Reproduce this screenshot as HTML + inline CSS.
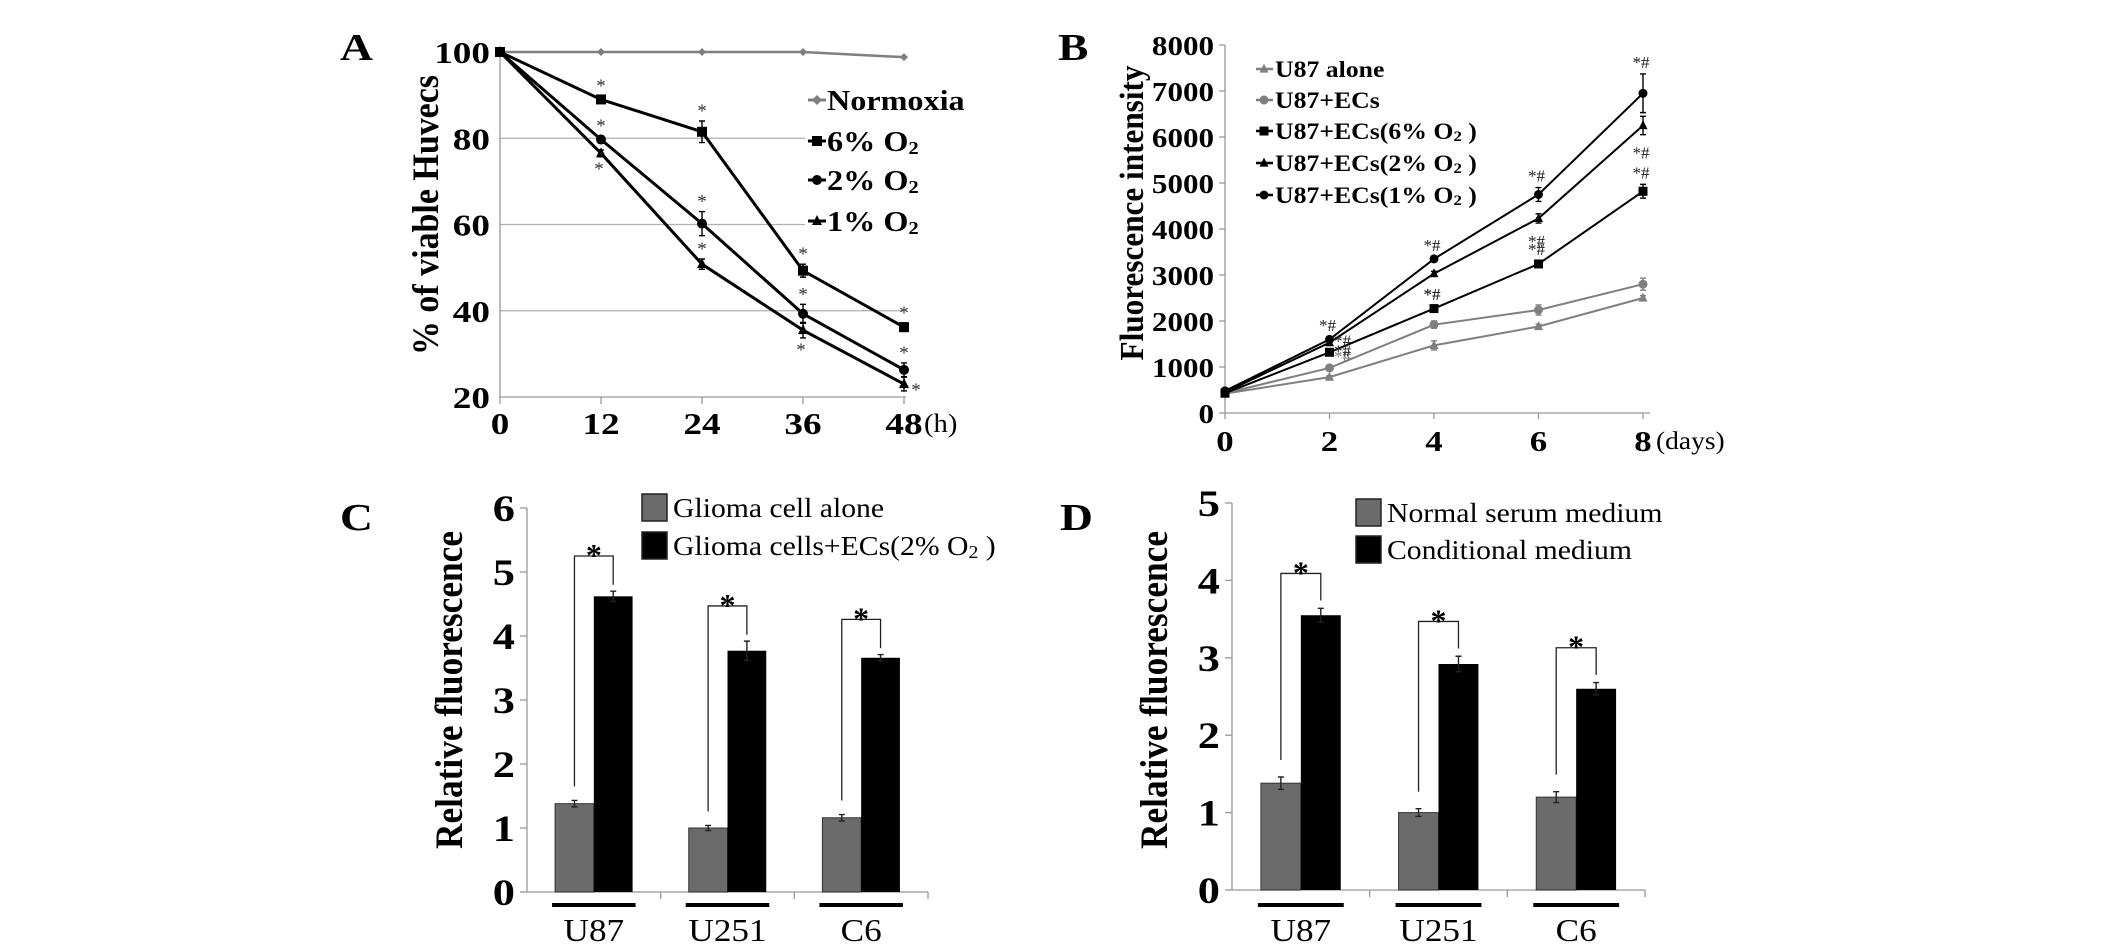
<!DOCTYPE html>
<html><head><meta charset="utf-8"><style>
html,body{margin:0;padding:0;background:#fff;overflow:hidden;}
svg{display:block;}
svg text{font-family:"Liberation Serif","Times New Roman",serif;}
</style></head><body>
<svg id="fig" width="2126" height="944" viewBox="0 0 2126 944">
<g id="pA"></g>
<g id="pB"></g>
<g id="pC"></g>
<g id="pD"></g>
</svg>
<script>
// ---- Panel A data ----
const aHours = [0, 12, 24, 36, 48];
const aYTicks = [20, 40, 60, 80, 100];
const aNormoxia = [100, 100, 100, 100, 98.8];
const a6 = [100, 89, 81.5, 49.3, 36.2];
const a2 = [100, 79.7, 60.2, 39.3, 26.3];
const a1 = [100, 76.5, 50.8, 35.5, 23];
const a6Err = [0, 0.8, 2.5, 1.5, 1];
const a2Err = [0, 0.8, 2.8, 2.2, 1.6];
const a1Err = [0, 0.8, 1.2, 1.8, 1.6];
// ---- Panel B data ----
const bDays = [0, 2, 4, 6, 8];
const bYTicks = [0, 1000, 2000, 3000, 4000, 5000, 6000, 7000, 8000];
const bAlone = [420, 780, 1470, 1880, 2500];
const bECs = [430, 980, 1920, 2240, 2800];
const b6 = [430, 1320, 2270, 3240, 4820];
const b2 = [450, 1530, 3030, 4230, 6250];
const b1 = [480, 1600, 3350, 4750, 6950];
const bAloneErr = [0, 30, 100, 50, 50];
const bECsErr = [0, 50, 80, 110, 130];
const b6Err = [0, 40, 60, 60, 150];
const b2Err = [0, 50, 50, 100, 200];
const b1Err = [40, 50, 40, 150, 420];
// ---- Panel C data ----
const cCats = ["U87", "U251", "C6"];
const cYTicks = [0, 1, 2, 3, 4, 5, 6];
const cGray = [1.38, 1.0, 1.16];
const cBlack = [4.62, 3.77, 3.66];
const cGrayErr = [0.05, 0.04, 0.05];
const cBlackErr = [0.08, 0.15, 0.05];
// ---- Panel D data ----
const dCats = ["U87", "U251", "C6"];
const dYTicks = [0, 1, 2, 3, 4, 5];
const dGray = [1.38, 1.0, 1.2];
const dBlack = [3.55, 2.92, 2.6];
const dGrayErr = [0.08, 0.05, 0.07];
const dBlackErr = [0.09, 0.1, 0.08];

const NS = "http://www.w3.org/2000/svg";
function mk(parent, tag, attrs, text) {
  const e = document.createElementNS(NS, tag);
  for (const k in attrs) e.setAttribute(k, attrs[k]);
  if (text !== undefined) e.textContent = text;
  parent.appendChild(e);
  return e;
}
function txt(parent, x, y, str, size, anchor, weight, sx) {
  return mk(parent, "text", {x: 0, y: 0, transform: `translate(${x} ${y}) scale(${sx || 1.15} 1)`, "font-size": size, "font-weight": weight || "normal", "text-anchor": anchor || "start"}, str);
}
function marker(g, type, x, y, r, color) {
  if (type === "square") return mk(g, "rect", {x: x - r, y: y - r, width: 2 * r, height: 2 * r, fill: color});
  if (type === "circle") return mk(g, "circle", {cx: x, cy: y, r: r, fill: color});
  if (type === "triangle") return mk(g, "polygon", {points: `${x},${y - r * 1.2} ${x - r},${y + r * 0.8} ${x + r},${y + r * 0.8}`, fill: color});
  return mk(g, "polygon", {points: `${x},${y - r} ${x + r},${y} ${x},${y + r} ${x - r},${y}`, fill: color});
}
function errBar(g, x, yHi, yLo, color) {
  mk(g, "path", {d: `M${x} ${yHi} V${yLo} M${x - 3} ${yHi} H${x + 3} M${x - 3} ${yLo} H${x + 3}`, stroke: color, "stroke-width": 1.4, fill: "none"});
}

// ================= Panel A =================
(function () {
  const g = document.getElementById("pA");
  const X = h => 500 + h * (904 - 500) / 48;
  const Y = v => 397 - (v - 20) * (397 - 52) / 80;
  let t = txt(g, 340, 60, "A", 38, "start", "bold", 1.2);
   
  aYTicks.forEach(v => {
    if (v > 20 && v < 100) {
      const l = mk(g, "line", {x1: 500, x2: 904, y1: Y(v), y2: Y(v), stroke: "#b0b0b0", "stroke-width": 1.3});
       
    }
    const tt = txt(g, 490, Y(v) + 11, String(v), 31, "end", "bold", 1.2);
     
  });
  const ax = mk(g, "path", {d: `M500 ${Y(100)} V397 H906`, stroke: "#999", "stroke-width": 1.3, fill: "none"});
   
  aHours.forEach(h => {
    mk(g, "line", {x1: X(h), x2: X(h), y1: 397, y2: 404, stroke: "#999", "stroke-width": 1.3});
    const tt = txt(g, X(h), 434, String(h), 31, "middle", "bold", 1.2);
     
  });
  t = txt(g, 924, 432, "(h)", 26, "start", "normal", 1.1);
   
  t = mk(g, "text", {x: 0, y: 0, "font-size": 37, "font-weight": "bold", "text-anchor": "middle", transform: "translate(438 215) rotate(-90)", textLength: 280, lengthAdjust: "spacingAndGlyphs"}, "% of viable Huvecs");
   

  const series = [
    {vals: aNormoxia, err: null, type: "diamond", color: "#7f7f7f", w: 2.5, name: "Normoxia"},
    {vals: a6, err: a6Err, type: "square", color: "#000", w: 3, name: "6% O"},
    {vals: a2, err: a2Err, type: "circle", color: "#000", w: 3, name: "2% O"},
    {vals: a1, err: a1Err, type: "triangle", color: "#000", w: 3, name: "1% O"}
  ];
  const legY = [100, 141, 180, 221];
  const bgRect = mk(g, "rect", {x: 805, y: 78, width: 120, height: 165, fill: "#fff"});
   
  series.forEach((s, si) => {
    const sg = mk(g, "g", {});
    
    
    mk(sg, "polyline", {points: s.vals.map((v, i) => X(aHours[i]) + "," + Y(v)).join(" "), fill: "none", stroke: s.color, "stroke-width": s.w});
    s.vals.forEach((v, i) => {
      if (s.err && s.err[i] > 0) errBar(sg, X(aHours[i]), Y(v + s.err[i]), Y(v - s.err[i]), "#000");
      const m = marker(sg, s.type, X(aHours[i]), Y(v), s.type === "diamond" ? 4 : 5, s.color);
       
      if (s.err && i > 0) {
        let sx = X(aHours[i]), sy = Y(v + s.err[i]) - 4;
        if (si === 3 && (i === 1 || i === 3)) { sy = Y(v - s.err[i]) + 18; sx -= 2; }
        if (si === 3 && i === 4) { sx += 12; sy = Y(v) + 12; }
        const st = mk(sg, "text", {x: sx, y: sy, "font-size": 19, "text-anchor": "middle", fill: "#333"}, "*");
         
      }
    });
    const lg = mk(g, "g", {});
     
    mk(lg, "line", {x1: 808, x2: 826, y1: legY[si], y2: legY[si], stroke: s.color, "stroke-width": 3});
    marker(lg, s.type, 817, legY[si], 5, s.color);
    const tx = txt(lg, 827, legY[si] + 10, s.name, 28, "start", "bold", 1.15);
    if (si > 0) mk(tx, "tspan", {"font-size": 18, dy: 3}, "2");
  });
})();

// ================= Panel B =================
(function () {
  const g = document.getElementById("pB");
  const X = d => 1225 + d * (1643 - 1225) / 8;
  const Y = v => 413 - v * (413 - 45) / 8000;
  let t = txt(g, 1058, 60, "B", 38, "start", "bold", 1.2);
   
  bYTicks.forEach(v => {
    const tt = txt(g, 1214, Y(v) + 10, String(v), 27, "end", "bold", 1.15);
     
    mk(g, "line", {x1: 1219, x2: 1225, y1: Y(v), y2: Y(v), stroke: "#999", "stroke-width": 1.3});
  });
  const ax = mk(g, "path", {d: `M1225 45 V413 H1650`, stroke: "#999", "stroke-width": 1.3, fill: "none"});
   
  bDays.forEach(d => {
    mk(g, "line", {x1: X(d), x2: X(d), y1: 413, y2: 419, stroke: "#999", "stroke-width": 1.3});
    const tt = txt(g, X(d), 451, String(d), 29, "middle", "bold", 1.2);
     
  });
  t = txt(g, 1656, 449, "(days)", 25, "start", "normal", 1.1);
   
  t = mk(g, "text", {x: 0, y: 0, "font-size": 34, "font-weight": "bold", "text-anchor": "middle", transform: "translate(1143 213) rotate(-90)", textLength: 295, lengthAdjust: "spacingAndGlyphs"}, "Fluorescence intensity");
   

  const series = [
    {vals: bAlone, err: bAloneErr, type: "triangle", color: "#7f7f7f", name: "U87 alone", sub: false},
    {vals: bECs, err: bECsErr, type: "circle", color: "#7f7f7f", name: "U87+ECs", sub: false},
    {vals: b6, err: b6Err, type: "square", color: "#000", name: "U87+ECs(6% O", sub: true},
    {vals: b2, err: b2Err, type: "triangle", color: "#000", name: "U87+ECs(2% O", sub: true},
    {vals: b1, err: b1Err, type: "circle", color: "#000", name: "U87+ECs(1% O", sub: true}
  ];
  const legY = [69, 100, 131, 163, 195];
  series.forEach((s, si) => {
    const sg = mk(g, "g", {});
    
    
    mk(sg, "polyline", {points: s.vals.map((v, i) => X(bDays[i]) + "," + Y(v)).join(" "), fill: "none", stroke: s.color, "stroke-width": 2});
    s.vals.forEach((v, i) => {
      const e = s.err[i];
      if (e > 0) errBar(sg, X(bDays[i]), Y(v + e), Y(v - e), s.color);
      const m = marker(sg, s.type, X(bDays[i]), Y(v), 4.5, s.color);
       
      if (si >= 1 && i >= 1 && !(si === 1 && i > 1)) {
        let sx = X(bDays[i]) - 2, sy = Y(v + e) - 6;
        if (si === 3 && i >= 2) sy = Y(v - e) + 24;
        if (si === 1 || (si === 2 && i === 1) || (si === 3 && i === 1)) { sx += 15; sy = Y(v) + (si === 1 ? -6 : 4); }
        const st = mk(sg, "text", {x: sx, y: sy, "font-size": 17, "text-anchor": "middle", fill: si === 1 ? "#777" : "#222"}, "*#");
         
      }
    });
    const lg = mk(g, "g", {});
     
    mk(lg, "line", {x1: 1256, x2: 1273, y1: legY[si], y2: legY[si], stroke: s.color, "stroke-width": 2.5});
    marker(lg, s.type, 1264, legY[si], 4.5, s.color);
    const tx = txt(lg, 1275, legY[si] + 8, s.name, 23, "start", "bold", 1.12);
    if (s.sub) { mk(tx, "tspan", {"font-size": 15, dy: 2}, "2"); mk(tx, "tspan", {dy: -2}, " )"); }
  });
})();

// ================= Bar panels =================
function barPanel(id, opts, cats, yTicks, gray, black, grayErr, blackErr) {
  const g = document.getElementById(id);
  const {x0, x1, y0, yTop, yMax, label, labelX, legend, legX, legY, titleX, bracketOff} = opts;
  const Y = v => y0 - v * (y0 - yTop) / yMax;
  const cw = (x1 - x0) / cats.length;
  const bw = cw * 0.29;
  const t0 = txt(g, labelX, 530, label, 38, "start", "bold", 1.2);
   
  yTicks.forEach(v => {
    const tt = txt(g, x0 - 12, Y(v) + 13, String(v), 37, "end", "bold", 1.2);
     
    mk(g, "line", {x1: x0 - 7, x2: x0, y1: Y(v), y2: Y(v), stroke: "#999", "stroke-width": 1.3});
  });
  const ax = mk(g, "path", {d: `M${x0} ${yTop} V${y0} H${x1}`, stroke: "#999", "stroke-width": 1.3, fill: "none"});
   
  const t = mk(g, "text", {x: 0, y: 0, "font-size": 39, "font-weight": "bold", "text-anchor": "middle", transform: `translate(${titleX} 690) rotate(-90)`, textLength: 318, lengthAdjust: "spacingAndGlyphs"}, "Relative fluorescence");
   
  cats.forEach((c, i) => {
    const cx = x0 + cw * (i + 0.5);
    mk(g, "line", {x1: x0 + cw * (i + 1), x2: x0 + cw * (i + 1), y1: y0, y2: y0 + 7, stroke: "#999", "stroke-width": 1.3});
    const gb = mk(g, "rect", {x: cx - bw, y: Y(gray[i]), width: bw, height: y0 - Y(gray[i]), fill: "#6b6b6b", stroke: "#333", "stroke-width": 1});
     
    const bb = mk(g, "rect", {x: cx, y: Y(black[i]), width: bw, height: y0 - Y(black[i]), fill: "#000"});
     
    errBar(g, cx - bw / 2, Y(gray[i] + grayErr[i]), Y(gray[i] - grayErr[i]), "#222");
    errBar(g, cx + bw / 2, Y(black[i] + blackErr[i]), Y(black[i] - blackErr[i]), "#222");
    const by = Y(black[i] + blackErr[i] + bracketOff);
    const br = mk(g, "path", {d: `M${cx - bw / 2} ${Y(gray[i] + grayErr[i] + 0.22)} V${by} H${cx + bw / 2} V${Y(black[i] + blackErr[i] + 0.1)}`, stroke: "#222", "stroke-width": 1.3, fill: "none"});
     
    const st = mk(g, "text", {x: cx, y: by + 10, "font-size": 32, "font-weight": "bold", "text-anchor": "middle"}, "*");
     
    const ul = mk(g, "rect", {x: cx - bw - 3, y: 903, width: 2 * bw + 6, height: 4, fill: "#000"});
     
    const cl = txt(g, cx, 941, c, 32, "middle", "normal", 1.1);
     
  });
  legend.forEach((name, i) => {
    const lg = mk(g, "g", {});
     
    mk(lg, "rect", {x: legX, y: legY[i], width: 25, height: 27, fill: i === 0 ? "#6b6b6b" : "#000", stroke: "#222", "stroke-width": 1.5});
    const tx = txt(lg, legX + 31, legY[i] + 23, name, 27, "start", "normal", 1.1);
    if (name.endsWith("O")) { mk(tx, "tspan", {"font-size": 18, dy: 3}, "2"); mk(tx, "tspan", {dy: -3}, " )"); }
  });
}
barPanel("pC", {x0: 527, x1: 928, y0: 892, yTop: 508, yMax: 6, label: "C", labelX: 340, legend: ["Glioma cell alone", "Glioma cells+ECs(2% O"], legX: 642, legY: [494, 532], titleX: 462, bracketOff: 0.55}, cCats, cYTicks, cGray, cBlack, cGrayErr, cBlackErr);
barPanel("pD", {x0: 1232, x1: 1645, y0: 890, yTop: 503, yMax: 5, label: "D", labelX: 1060, legend: ["Normal serum medium", "Conditional medium"], legX: 1356, legY: [499, 536], titleX: 1167, bracketOff: 0.45}, dCats, dYTicks, dGray, dBlack, dGrayErr, dBlackErr);
</script>
</body></html>
